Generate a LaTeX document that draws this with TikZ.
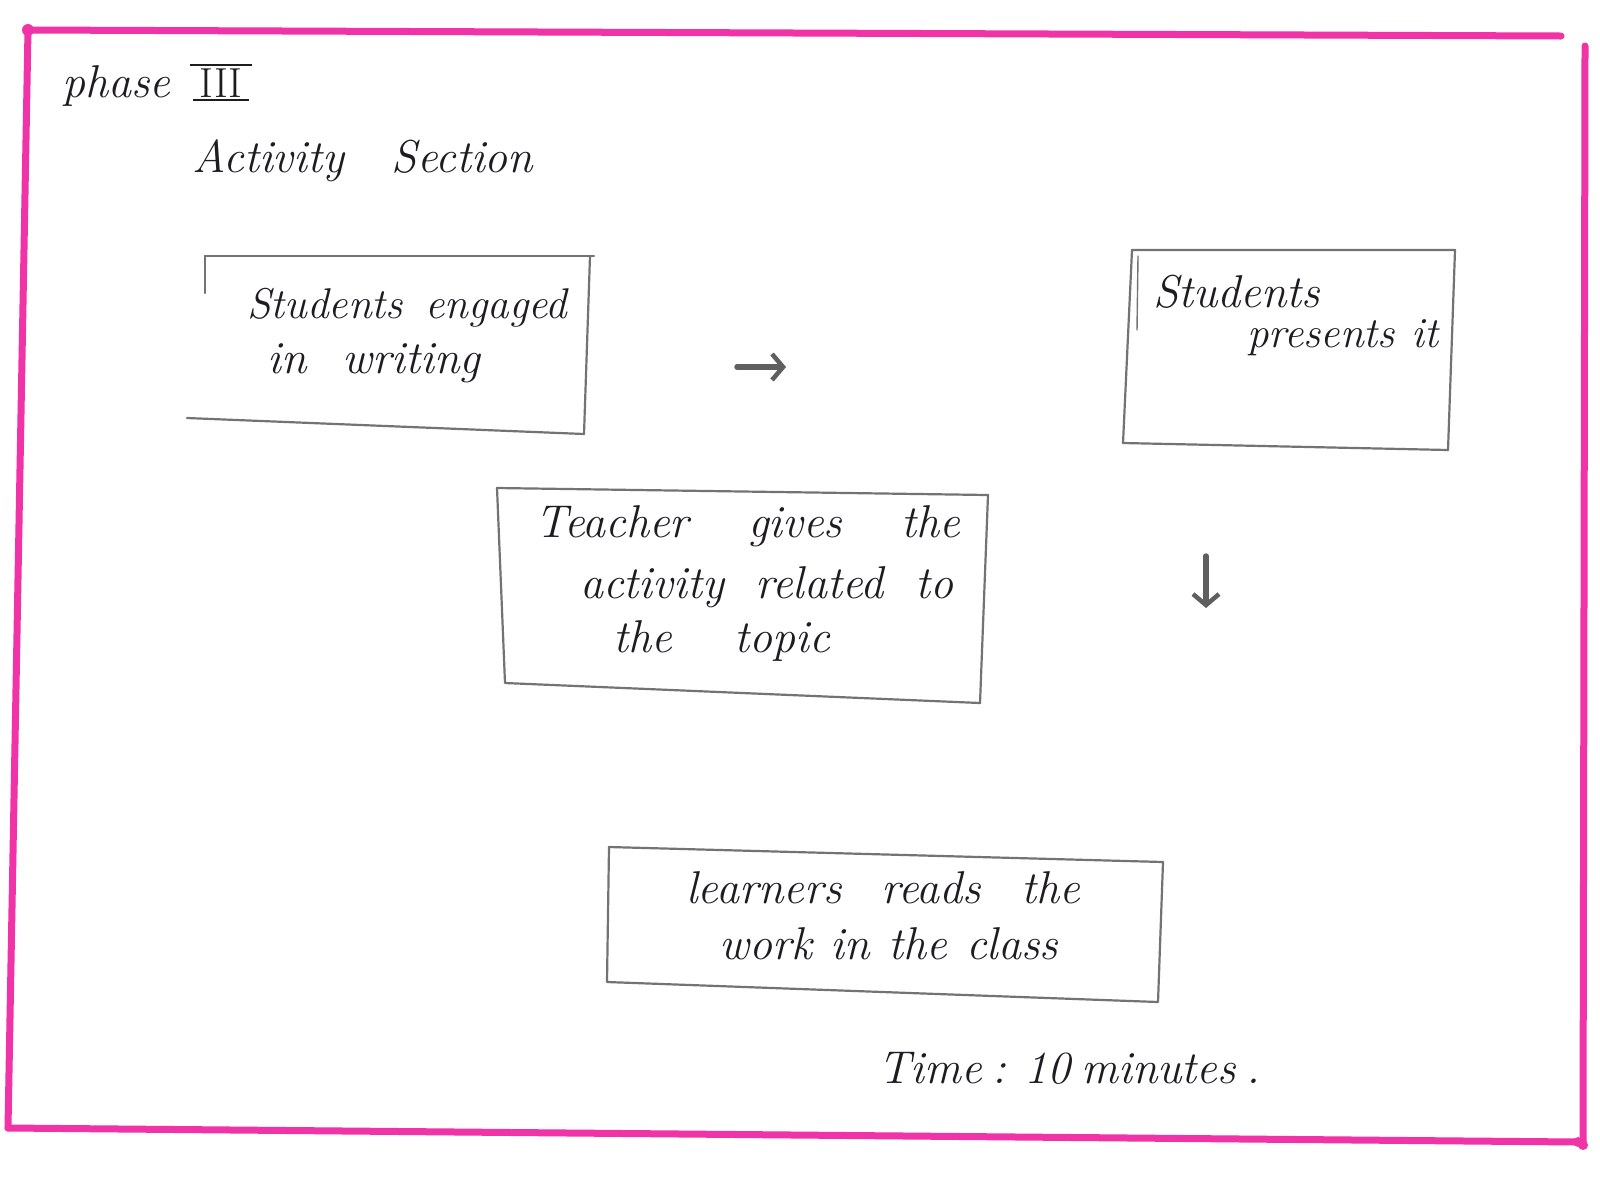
\documentclass[tikz,border=0pt]{standalone}
\usetikzlibrary{arrows.meta}
\definecolor{pinkframe}{RGB}{240,52,168}
\definecolor{boxgray}{RGB}{115,115,115}
\definecolor{arrowgray}{RGB}{95,95,95}
\definecolor{inkcol}{RGB}{30,28,32}
\tikzset{
  frameline/.style={draw=pinkframe,line width=7pt,line cap=round},
  boxline/.style={draw=boxgray,line width=2.2pt,line join=round,line cap=round},
  sketcharrow/.style={draw=arrowgray,line width=5.5pt,line cap=round,-{Straight Barb[length=11pt,width=26pt,line width=4.5pt]}},
  handtext/.style={anchor=base west,inner sep=0pt,text=inkcol,font=\fontsize{46}{54}\selectfont\itshape},
  handsmall/.style={handtext,font=\fontsize{43}{50}\selectfont\itshape},
}
\newcommand{\handline}[2]{\makebox[#1][s]{#2}}
\begin{document}
\begin{tikzpicture}[x=1pt,y=-1pt]
\useasboundingbox (0,0) rectangle (1600,1179);
\fill[white] (0,0) rectangle (1600,1179);
% pink frame
\coordinate (ftl) at (28,30);
\coordinate (ftr) at (1561,36);
\coordinate (frt) at (1585,46);
\coordinate (frb) at (1583,1145);
\coordinate (fbl) at (8,1128);
\coordinate (fbr) at (1578,1142);
\draw[frameline] (ftl) -- (ftr);
\draw[frameline] (frt) -- (frb);
\draw[frameline] (fbl) -- (fbr);
\draw[frameline] (ftl) -- (fbl);
\fill[pinkframe] (ftl) circle (6pt);
\fill[pinkframe] (fbr) circle (5pt);
\fill[pinkframe] (frb) circle (5pt);
% headings
\node[handtext] (phase) at (62,97) {\handline{111pt}{phase}};
\node[anchor=base west,inner sep=3pt,text=inkcol,font=\fontsize{42}{50}\selectfont] (iii) at (196,97) {III};
\draw[inkcol,line width=2pt] ([xshift=-6pt]iii.north west) -- ([xshift=6pt]iii.north east);
\draw[inkcol,line width=2pt] ([xshift=-3pt]iii.south west) -- ([xshift=3pt]iii.south east);
\node[handtext] (act) at (192,172) {\handline{341pt}{Activity Section}};
% box 1
\coordinate (b1a) at (205,256);
\coordinate (b1b) at (594,256);
\coordinate (b1c) at (590,256);
\coordinate (b1d) at (584,434);
\coordinate (b1e) at (187,418);
\coordinate (b1f) at (205,293);
\draw[boxline] (b1a) -- (b1b);
\draw[boxline] (b1c) -- (b1d);
\draw[boxline] (b1e) -- (b1d);
\draw[boxline] (b1a) -- (b1f);
\node[handsmall] (t1a) at (247,318) {\handline{320pt}{Students engaged}};
\node[handtext] (t1b) at (267,373) {\handline{213pt}{in writing}};
% box 2
\coordinate (b2a) at (1132,250);
\coordinate (b2b) at (1455,250);
\coordinate (b2c) at (1448,450);
\coordinate (b2d) at (1123,443);
\draw[boxline] (b2a) -- (b2b) -- (b2c);
\draw[boxline] (b2d) -- (b2c);
\draw[boxline] (b2a) -- (b2d);
\draw[boxline,line width=1.4pt] (1138,256) -- (1137,330);
\node[handtext] (t2a) at (1153,307) {\handline{190pt}{Students}};
\node[handsmall] (t2b) at (1247,347) {\handline{191pt}{presents it}};
% box 3
\coordinate (b3a) at (497,488);
\coordinate (b3b) at (988,495);
\coordinate (b3c) at (980,703);
\coordinate (b3d) at (505,683);
\draw[boxline] (b3a) -- (b3b) -- (b3c) -- (b3d) -- cycle;
\node[handtext] (t3a) at (535,537) {\handline{425pt}{Teacher gives the}};
\node[handtext] (t3b) at (580,598) {\handline{373pt}{activity related to}};
\node[handtext] (t3c) at (613,652) {\handline{217pt}{the topic}};
% box 4
\coordinate (b4a) at (609,847);
\coordinate (b4b) at (1163,862);
\coordinate (b4c) at (1158,1002);
\coordinate (b4d) at (607,982);
\draw[boxline] (b4a) -- (b4b) -- (b4c) -- (b4d) -- cycle;
\node[handtext] (t4a) at (686,903) {\handline{394pt}{learners reads the}};
\node[handtext] (t4b) at (719,959) {\handline{339pt}{work in the class}};
% arrows
\coordinate (a1s) at (737,367);
\coordinate (a1e) at (786,367);
\draw[sketcharrow] (a1s) -- (a1e);
\coordinate (a2s) at (1206,556);
\coordinate (a2e) at (1206,608);
\draw[sketcharrow] (a2s) -- (a2e);
% time
\node[handtext] (time) at (878,1083) {\handline{374pt}{Time : 10 minutes .}};
\end{tikzpicture}
\end{document}
